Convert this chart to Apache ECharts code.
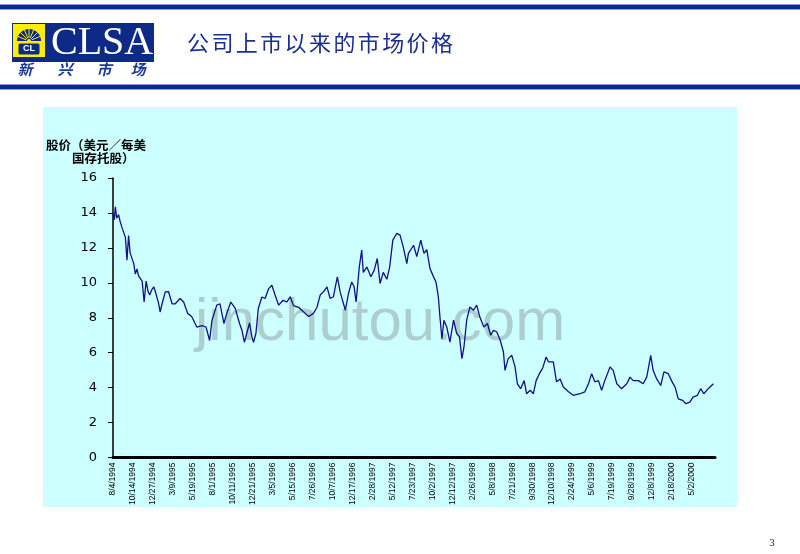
<!DOCTYPE html>
<html>
<head>
<meta charset="utf-8">
<script src="https://cdn.jsdelivr.net/npm/echarts@6/dist/echarts.min.js"></script>
<style>
html,body{margin:0;padding:0;background:#fff;}
#chart{width:800px;height:554px;}
</style>
</head>
<body>
<div id="chart"></div>
<script>
// ---- data ----
const titleText = '公司上市以来的市场价格';
const yNameLine1 = '股价（美元／每美';
const yNameLine2 = '国存托股）';
const watermark = 'jinchutou.com';
const tickLabels = ['8/4/1994','10/14/1994','12/27/1994','3/9/1995','5/19/1995','8/1/1995','10/11/1995','12/21/1995','3/5/1996','5/15/1996','7/26/1996','10/7/1996','12/17/1996','2/28/1997','5/12/1997','7/23/1997','10/2/1997','12/12/1997','2/26/1998','5/8/1998','7/21/1998','9/30/1998','12/10/1998','2/24/1999','5/6/1999','7/19/1999','9/28/1999','12/8/1999','2/18/2000','5/2/2000'];
const daysPerTick = 50;          // trading days between labelled dates
const lastDay = 1508;            // trading-day index at end of x axis
// trading-day index of each reading
const days = [0,3,6,9,14,18,22,27,31,35,39,43,48,52,56,60,64,68,73,78,83,88,92,97,102,106,110,114,118,123,131,139,148,156,168,177,187,197,210,223,233,242,248,260,268,278,285,295,306,317,323,329,335,342,348,352,358,364,373,381,390,398,406,415,426,435,444,452,465,477,490,502,511,519,527,536,544,552,562,569,582,590,598,604,609,617,623,627,636,646,654,662,669,677,686,693,701,711,719,727,736,740,753,761,771,779,786,794,803,809,815,819,824,829,836,844,853,861,868,874,879,886,894,903,911,919,929,938,946,953,961,970,978,982,990,999,1007,1013,1021,1030,1036,1045,1053,1060,1068,1076,1085,1091,1103,1111,1120,1128,1141,1153,1170,1182,1191,1199,1207,1216,1224,1232,1245,1253,1262,1274,1287,1295,1303,1316,1328,1337,1347,1353,1362,1372,1380,1391,1399,1408,1416,1427,1435,1445,1453,1464,1472,1480,1491,1504];
// share price (USD per ADS)
const prices = [13.9,13.6,14.35,13.7,13.9,13.5,13.2,13.1,12.6,11.3,12.7,11.7,11.7,11.1,10.5,10.8,10.4,10.3,10.1,8.9,10.1,9.5,9.3,9.6,9.77,9.5,9.6,8.85,8.33,8.8,9.48,9.5,8.8,8.8,9.1,8.9,8.25,8.07,7.47,7.55,7.47,6.7,7.86,8.72,8.8,7.67,8.25,8.9,8.55,7.67,7.28,6.6,7.1,7.7,6.9,6.6,7.1,8.53,9.19,9.1,9.67,9.86,9.3,8.72,9.0,8.9,9.2,8.7,8.6,8.34,8.07,8.25,8.6,9.3,9.48,9.77,9.1,9.2,10.34,9.48,8.43,9.4,10.05,9.77,8.9,10.91,11.87,10.6,10.9,10.35,10.7,11.39,9.96,10.6,10.2,10.9,12.44,12.83,12.73,12.06,11.1,11.68,12.15,11.5,12.44,11.68,11.9,10.82,10.34,10.05,9.19,8.04,6.8,7.86,7.47,6.61,7.86,7.1,6.9,5.66,6.3,7.86,8.62,8.43,8.72,8.04,7.47,7.67,7.0,7.28,7.2,6.71,6.04,4.99,5.66,5.85,5.2,4.22,3.94,4.4,3.65,3.85,3.65,4.4,4.8,5.1,5.75,5.47,5.47,4.33,4.5,4.03,3.76,3.56,3.65,3.76,4.22,4.8,4.33,4.4,3.85,4.4,5.18,4.99,4.22,3.94,4.22,4.6,4.4,4.4,4.22,4.6,5.85,4.99,4.5,4.12,4.9,4.8,4.4,4.03,3.36,3.27,3.08,3.17,3.46,3.56,3.94,3.65,3.94,4.22];

// ---- chart ----
const chart = echarts.init(document.getElementById('chart'), null, {renderer: 'canvas'});
const seriesData = days.map((d, i) => [d, prices[i]]);

const graphics = [];
// panel background
graphics.push({type:'rect', z:-5, shape:{x:43,y:107,width:694,height:400}, style:{fill:'#ccffff'}});
// header bars
graphics.push({type:'rect', z:-5, shape:{x:0,y:4,width:800,height:6}, style:{fill:'#8a98e6'}});
graphics.push({type:'rect', z:-5, shape:{x:0,y:5,width:800,height:4}, style:{fill:'#0a2a8c'}});
graphics.push({type:'rect', z:-5, shape:{x:0,y:84,width:800,height:6}, style:{fill:'#8a98e6'}});
graphics.push({type:'rect', z:-5, shape:{x:0,y:85,width:800,height:4}, style:{fill:'#0a2a8c'}});
// logo
graphics.push({type:'rect', z:-5, shape:{x:12,y:23,width:142,height:39}, style:{fill:'#0d2a86'}});
graphics.push({type:'rect', z:-4, shape:{x:13,y:24,width:32,height:33}, style:{fill:'#ffee00'}});
graphics.push({type:'sector', z:-3, shape:{cx:29,cy:41,r0:2,r:12,startAngle:Math.PI,endAngle:2*Math.PI}, style:{fill:'#0d2a86'}});
for (let k = 1; k < 8; k++) {
  const a = Math.PI + k * Math.PI / 8;
  graphics.push({type:'line', z:-2, shape:{x1:29+3*Math.cos(a), y1:41+3*Math.sin(a), x2:29+12*Math.cos(a), y2:41+12*Math.sin(a)}, style:{stroke:'#ffee00', lineWidth:1}});
}
graphics.push({type:'rect', z:-2, shape:{x:18,y:43,width:22,height:12,r:2}, style:{fill:'#0d2a86', stroke:'#ffee00', lineWidth:1}});
graphics.push({type:'text', z:-1, x:29, y:49, style:{text:'CL', fill:'#fff', font:'bold 9px "Liberation Sans"', align:'center', verticalAlign:'middle'}});
graphics.push({type:'text', z:-1, x:51, y:43, style:{text:'CLSA', fill:'#fff', font:'40px "Liberation Serif"', align:'left', verticalAlign:'middle'}});
const logoSub = ['新','兴','市','场'];
const logoSubX = [25, 65, 104, 138];
logoSub.forEach((c, i) => {
  graphics.push({type:'text', z:-1, x:logoSubX[i], y:69, style:{text:c, fill:'#1a3a9a', font:'italic bold 15px "Noto Sans CJK SC"', align:'center', verticalAlign:'middle'}});
});
// title (one glyph per slot)
Array.from(titleText).forEach((c, i) => {
  graphics.push({type:'text', z:-1, x:187 + i*24.4, y:43, style:{text:c, fill:'#1a2f8f', font:'22px "Noto Sans CJK SC"', align:'left', verticalAlign:'middle'}});
});
// y-axis name
graphics.push({type:'text', z:-1, x:46, y:145, style:{text:yNameLine1, fill:'#000', font:'bold 12.5px "Noto Sans CJK SC"', align:'left', verticalAlign:'middle'}});
graphics.push({type:'text', z:-1, x:72, y:158, style:{text:yNameLine2, fill:'#000', font:'bold 12.5px "Noto Sans CJK SC"', align:'left', verticalAlign:'middle'}});
// watermark (beneath the price line)
graphics.push({type:'text', z:-1, x:195, y:293, style:{text:watermark, fill:'rgba(128,138,138,0.42)', font:'60px "Liberation Sans"', align:'left', verticalAlign:'alphabetic', textBaseline:'alphabetic'}});
// page number
graphics.push({type:'text', z:-1, x:772, y:543, style:{text:'3', fill:'#1a2a6c', font:'11px "Liberation Serif"', align:'center', verticalAlign:'middle'}});

chart.setOption({
  backgroundColor: '#ffffff',
  animation: false,
  grid: {left: 113, right: 85, top: 178, bottom: 96.5, containLabel: false},
  xAxis: {
    type: 'value', min: 0, max: lastDay, interval: daysPerTick,
    splitLine: {show: false},
    axisTick: {show: false},
    axisLine: {show: true, onZero: false, lineStyle: {color: '#000', width: 3}},
    axisLabel: {
      rotate: 90, margin: 5, fontSize: 8.5, fontFamily: '"Liberation Sans Narrow", "Liberation Sans"', color: '#000',
      showMinLabel: true, showMaxLabel: false, hideOverlap: false,
      formatter: function (v) {
        const k = Math.round(v / daysPerTick);
        if (Math.abs(v - k * daysPerTick) > 1e-6 || k >= tickLabels.length) return '';
        return tickLabels[k];
      }
    }
  },
  yAxis: {
    type: 'value', min: 0, max: 16, interval: 2,
    splitLine: {show: false},
    axisLine: {show: true, lineStyle: {color: '#000', width: 1.5}},
    axisTick: {show: true, length: 5, lineStyle: {color: '#000'}},
    axisLabel: {margin: 16, fontSize: 13, fontFamily: '"DejaVu Sans"', color: '#000'}
  },
  series: [{
    type: 'line', data: seriesData, showSymbol: false, symbol: 'none', z: 5,
    lineStyle: {color: '#10108a', width: 1.3}
  }],
  graphic: {elements: graphics}
});
</script>
</body>
</html>
